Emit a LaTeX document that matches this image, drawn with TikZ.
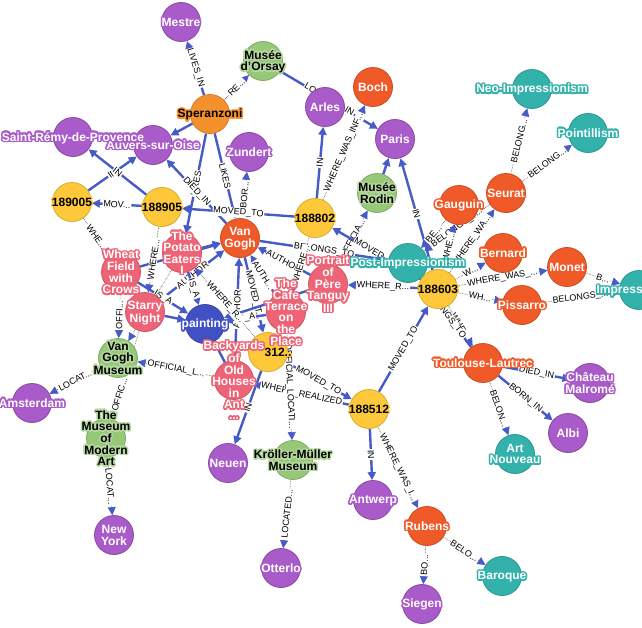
\documentclass[tikz,border=0pt]{standalone}
\usepackage{fontspec}
\setmainfont{Liberation Sans}
\usepackage[copies]{contour}
\usetikzlibrary{arrows.meta, positioning}

\contourlength{1.5pt}
\contournumber{16}

\definecolor{cplace}{HTML}{A95BC9}
\definecolor{cpainter}{HTML}{F05A28}
\definecolor{cdate}{HTML}{FDC93A}
\definecolor{cmuseum}{HTML}{96C878}
\definecolor{cstyle}{HTML}{32B2AA}
\definecolor{cwork}{HTML}{EE6476}
\definecolor{cperson}{HTML}{F5912D}
\definecolor{ckind}{HTML}{4150C3}
\definecolor{crel}{HTML}{465AC8}

\pgfdeclarelayer{edges}
\pgfsetlayers{edges,main}

\newcommand{\hl}{white}
\newcommand{\gl}[1]{\contour{\hl}{#1}}
% caption that does not widen the circle
\newcommand{\nm}[1]{\makebox[0pt]{\raisebox{-4.6pt}[0pt][0pt]{\begin{tabular}{@{}c@{}}#1\end{tabular}}}}

\tikzset{
  ent/.style={circle, minimum size=39pt, inner sep=0pt, line width=0.8pt,
    font=\bfseries\fontsize{12}{10.5}\selectfont},
  place/.style={ent, fill=cplace, draw=cplace!80!black, text=white,
    execute at begin node={\def\hl{cplace}}},
  painter/.style={ent, fill=cpainter, draw=cpainter!85!black, text=white,
    execute at begin node={\def\hl{cpainter}}},
  date/.style={ent, fill=cdate, draw=cdate!85!black, text=black,
    execute at begin node={\def\hl{cdate}}},
  museum/.style={ent, fill=cmuseum, draw=cmuseum!85!black, text=black,
    execute at begin node={\def\hl{cmuseum!70!white}}},
  movement/.style={ent, fill=cstyle, draw=cstyle!85!black, text=white,
    execute at begin node={\def\hl{cstyle}}},
  artwork/.style={ent, fill=cwork, draw=cwork!85!black, text=white,
    execute at begin node={\def\hl{cwork}}},
  person/.style={ent, fill=cperson, draw=cperson!85!black, text=black,
    execute at begin node={\def\hl{cperson}}},
  kind/.style={ent, fill=ckind, draw=ckind!85!black, text=white,
    execute at begin node={\def\hl{ckind}}},
  rel/.style={draw=crel, line width=2.4pt, -{Triangle[length=8pt,width=8pt]}},
  relx/.style={draw=black!70, line width=0.6pt, densely dotted,
    -{Triangle[length=8pt,width=8pt,color=crel]}},
  lab/.style={midway, sloped, fill=white, inner sep=0.8pt, text=black,
    font=\fontsize{9}{9}\selectfont},
}

\begin{document}
\begin{tikzpicture}[x=1pt, y=-1pt]
\useasboundingbox (0,0) rectangle (642,627);

\node[place]    (mestre)     at (181,22)  {\nm{\gl{Mestre}}};
\node[museum]   (orsay)      at (263,61)  {\nm{\gl{Musée}\\\gl{d'Orsay}}};
\node[person]   (speranzoni) at (210,114) {\nm{\gl{Speranzoni}}};
\node[place]    (auvers)     at (153,145) {\nm{\gl{Auvers-sur-Oise}}};
\node[place]    (stremy)     at (73,137)  {\nm{\gl{Saint-Rémy-de-Provence}}};
\node[place]    (arles)      at (325,107) {\nm{\gl{Arles}}};
\node[painter]  (boch)       at (373,87)  {\nm{\gl{Boch}}};
\node[place]    (paris)      at (395,139) {\nm{\gl{Paris}}};
\node[place]    (zundert)    at (249,152) {\nm{\gl{Zundert}}};
\node[museum]   (rodin)      at (377,193) {\nm{\gl{Musée}\\\gl{Rodin}}};
\node[movement] (neoimp)     at (532,89)  {\nm{\gl{Neo-Impressionism}}};
\node[movement] (pointill)   at (588,133) {\nm{\gl{Pointillism}}};
\node[painter]  (seurat)     at (506,193) {\nm{\gl{Seurat}}};
\node[painter]  (gauguin)    at (459,205) {\nm{\gl{Gauguin}}};
\node[date]     (d189005)    at (72,202)  {\nm{\gl{189005}}};
\node[date]     (d188905)    at (162,207) {\nm{\gl{188905}}};
\node[painter]  (vangogh)    at (240,238) {\nm{\gl{Van}\\\gl{Gogh}}};
\node[date]     (d188802)    at (315,218) {\nm{\gl{188802}}};
\node[painter]  (bernard)    at (503,253) {\nm{\gl{Bernard}}};
\node[painter]  (monet)      at (567,267) {\nm{\gl{Monet}}};
\node[movement] (impress)    at (639,290) {\nm{\gl{Impressionism}}};
\node[painter]  (pissarro)   at (522,305) {\nm{\gl{Pissarro}}};
\node[painter]  (toulouse)   at (483,363) {\nm{\gl{Toulouse-Lautrec}}};
\node[place]    (chateau)    at (590,383) {\nm{\gl{Château}\\\gl{Malromé}}};
\node[place]    (albi)       at (568,433) {\nm{\gl{Albi}}};
\node[movement] (artnouveau) at (515,454) {\nm{\gl{Art}\\\gl{Nouveau}}};
\node[painter]  (rubens)     at (427,526) {\nm{\gl{Rubens}}};
\node[movement] (baroque)    at (502,576) {\nm{\gl{Baroque}}};
\node[place]    (siegen)     at (422,604) {\nm{\gl{Siegen}}};
\node[date]     (d188512)    at (369,409) {\nm{\gl{188512}}};
\node[place]    (antwerp)    at (373,500) {\nm{\gl{Antwerp}}};
\node[museum]   (kroller)    at (293,460) {\nm{\gl{Kröller-Müller}\\\gl{Museum}}};
\node[place]    (otterlo)    at (281,568) {\nm{\gl{Otterlo}}};
\node[place]    (neuen)      at (228,463) {\nm{\gl{Neuen}}};
\node[date]     (d188312)    at (268,352) {\nm{\phantom{188}\gl{312..}}};
\node[kind]     (painting)   at (205,324) {\nm{\gl{painting}}};
\node[artwork]  (starry)     at (145,312) {\nm{\gl{Starry}\\\gl{Night}}};
\node[artwork]  (wheat)      at (121,272) {\nm{\gl{Wheat}\\\gl{Field}\\\gl{with}\\\gl{Crows}}};
\node[artwork]  (potato)     at (182,253) {\nm{\gl{The}\\\gl{Potato}\\\gl{Eaters}\\\gl{I}}};
\node[artwork]  (cafe)       at (286,312) {\nm{\gl{The}\\\gl{Cafe}\\\gl{Terrace}\\\gl{on}\\\gl{the}\\\gl{Place}}};
\node[artwork]  (portrait)   at (328,284) {\nm{\gl{Portrait}\\\gl{of}\\\gl{Père}\\\gl{Tanguy}\\\gl{III}}};
\node[artwork]  (backyards)  at (234,380) {\nm{\gl{Backyards}\\\gl{of}\\\gl{Old}\\\gl{Houses}\\\gl{in}\\\gl{Ant}\\\gl{...}}};
\node[museum]   (vgmuseum)   at (118,358) {\nm{\gl{Van}\\\gl{Gogh}\\\gl{Museum}}};
\node[place]    (amsterdam)  at (32,403)  {\nm{\gl{Amsterdam}}};
\node[museum]   (moma)       at (106,438) {\nm{\gl{The}\\\gl{Museum}\\\gl{of}\\\gl{Modern}\\\gl{Art}}};
\node[place]    (newyork)    at (114,535) {\nm{\gl{New}\\\gl{York}}};
\node[date]     (d188603)    at (438,289) {\nm{\gl{188603}}};
\node[movement] (postimp)    at (408,263) {\nm{\gl{Post-Impressionism}}};

\begin{pgfonlayer}{edges}
\draw[rel]  (speranzoni) -- node[lab]{LIVES\_IN} (mestre);
\draw[relx] (speranzoni) -- node[lab]{RE...} (orsay);
\draw[rel]  (speranzoni) -- (auvers);
\draw[rel]  (speranzoni) -- node[lab]{LIKES} (vangogh);
\draw[rel]  (speranzoni) -- node[lab]{LIKES} (potato);
\draw[rel]  (vangogh) -- node[lab]{DIED\_IN} (auvers);
\draw[relx] (vangogh) -- node[lab]{BOR...} (zundert);
\draw[rel]  (orsay) -- node[lab]{LOCATED\_IN} (paris);
\draw[rel]  (d188802) -- node[lab]{IN} (arles);
\draw[relx] (d188802) -- node[lab]{WHERE\_WAS\_INF...} (boch);
\draw[rel]  (rodin) -- (paris);
\draw[rel]  (d188603) -- node[lab]{IN} (paris);
\draw[relx] (portrait) -- node[lab]{OFFICIA...} (rodin);
\draw[rel]  (d188603) -- node[lab]{MOVED\_TO} (d188802);
\draw[rel]  (vangogh) -- node[lab]{BELONGS\_TO} (postimp);
\draw[rel]  (d188603) -- node[lab]{WHERE\_R...} (portrait);
\draw[rel]  (portrait) -- node[lab]{AUTHOR} (vangogh);
\draw[rel]  (cafe) -- node[lab]{AUTH...} (vangogh);
\draw[rel]  (vangogh) -- node[lab]{MOVED\_T...} (d188312);
\draw[rel]  (backyards) -- node[lab]{AUTHOR} (vangogh);
\draw[rel]  (potato) -- (vangogh);
\draw[rel]  (wheat) -- (vangogh);
\draw[rel]  (starry) -- node[lab]{AUTHOR} (vangogh);
\draw[rel]  (potato) -- node[lab]{IS\_A} (painting);
\draw[rel]  (wheat) -- node[lab]{IS\_A} (painting);
\draw[rel]  (starry) -- (painting);
\draw[rel]  (cafe) -- node[lab]{IS\_A} (painting);
\draw[rel]  (portrait) -- (painting);
\draw[rel]  (backyards) -- (painting);
\draw[relx] (d188312) -- node[lab]{WHERE\_R...} (potato);
\draw[relx] (d188802) -- node[lab]{WHERE...} (cafe);
\draw[relx] (d188905) -- node[lab]{WHERE...} (starry);
\draw[relx] (d189005) -- node[lab]{WHE...} (wheat);
\draw[rel]  (d188905) -- node[lab]{MOV...} (d189005);
\draw[rel]  (d189005) -- node[lab]{IN} (auvers);
\draw[rel]  (d188905) -- node[lab]{IN} (stremy);
\draw[rel]  (d188802) -- node[lab]{MOVED\_TO} (d188905);
\draw[rel]  (d188512) -- node[lab]{MOVED\_TO} (d188603);
\draw[rel]  (d188312) -- node[lab]{MOVED\_TO} (d188512);
\draw[rel]  (d188512) -- node[lab]{WHERE\_REALIZED} (backyards);
\draw[rel]  (d188512) -- node[lab]{IN} (antwerp);
\draw[relx] (d188512) -- node[lab]{WHERE\_WAS\_I...} (rubens);
\draw[relx] (rubens) -- node[lab]{BELO...} (baroque);
\draw[relx] (rubens) -- node[lab]{BO...} (siegen);
\draw[rel]  (d188312) -- node[lab]{IN} (neuen);
\draw[relx] (cafe) -- node[lab]{OFFICIAL\_LOCATI...} (kroller);
\draw[relx] (kroller) -- node[lab]{LOCATED...} (otterlo);
\draw[relx] (backyards) -- node[lab]{OFFICIAL\_L...} (vgmuseum);
\draw[relx] (wheat) -- node[lab]{OFFI...} (vgmuseum);
\draw[relx] (potato) -- (vgmuseum);
\draw[relx] (starry) -- node[lab, pos=0.72]{OFFIC...} (moma);
\draw[relx] (vgmuseum) -- node[lab]{LOCAT...} (amsterdam);
\draw[relx] (moma) -- node[lab]{LOCAT...} (newyork);
\draw[relx] (gauguin) -- node[lab]{BE...} (postimp);
\draw[relx] (seurat) -- node[lab]{BELONGS\_T...} (postimp);
\draw[relx] (d188603) -- node[lab]{WHE...} (gauguin);
\draw[relx] (d188603) -- node[lab]{WHERE\_WA...} (seurat);
\draw[relx] (d188603) -- node[lab]{W...} (bernard);
\draw[relx] (d188603) -- node[lab]{WHERE\_WAS\_...} (monet);
\draw[relx] (d188603) -- node[lab]{WH...} (pissarro);
\draw[relx] (d188603) -- node[lab]{WHE...} (toulouse);
\draw[rel]  (toulouse) -- node[lab]{BELONGS\_TO} (postimp);
\draw[relx] (seurat) -- node[lab]{BELONG...} (neoimp);
\draw[relx] (seurat) -- node[lab]{BELONG...} (pointill);
\draw[relx] (monet) -- node[lab]{B...} (impress);
\draw[relx] (pissarro) -- node[lab]{BELONGS\_...} (impress);
\draw[rel]  (toulouse) -- node[lab]{DIED\_IN} (chateau);
\draw[rel]  (toulouse) -- node[lab]{BORN\_IN} (albi);
\draw[relx] (toulouse) -- node[lab]{BELON...} (artnouveau);
\end{pgfonlayer}

\end{tikzpicture}
\end{document}
